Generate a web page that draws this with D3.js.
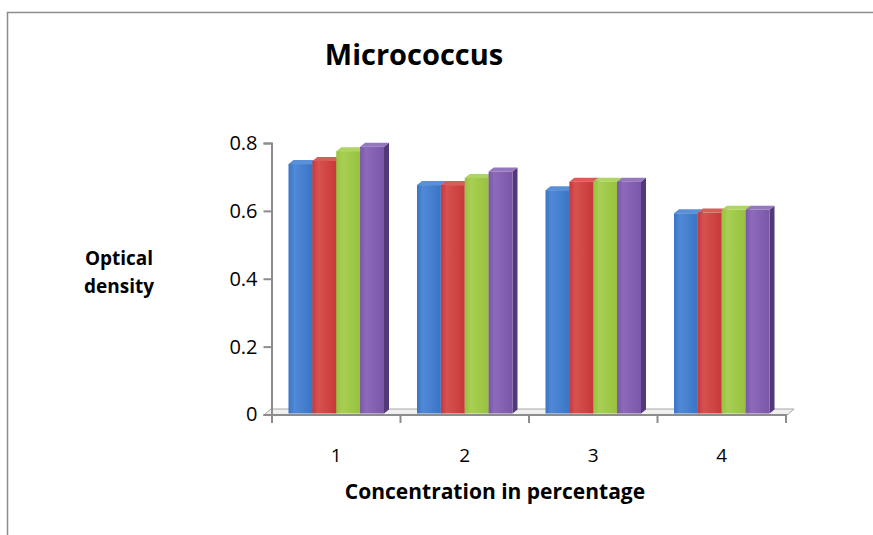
<!DOCTYPE html>
<html>
<head>
<meta charset="utf-8">
<script src="https://cdn.jsdelivr.net/npm/d3@7"></script>
<style>
  body { margin: 0; background: #fff; }
  text { font-family: "Open Sans", "Liberation Sans", sans-serif; }
</style>
</head>
<body>
<div id="chart"></div>
<script>
// data
const categories = ["1", "2", "3", "4"];
const series1 = [0.738, 0.676, 0.661, 0.593];
const series2 = [0.747, 0.676, 0.686, 0.595];
const series3 = [0.776, 0.697, 0.686, 0.603];
const series4 = [0.789, 0.716, 0.686, 0.603];
const yTicks = [0, 0.2, 0.4, 0.6, 0.8];

const allSeries = [series1, series2, series3, series4];
const seriesKeys = ["s1", "s2", "s3", "s4"];

// front, side, top colours per series
const palette = [
    {front: "#3a74c6", light: "#5089d6", side: "#28528e", top: "#5a90d8"},
    {front: "#c93838", light: "#d65151", side: "#8f2828", top: "#da5b58"},
    {front: "#97c23e", light: "#a8cf54", side: "#6a8b2a", top: "#aed461"},
    {front: "#7b56aa", light: "#8c6bb9", side: "#523977", top: "#9577c0"}
];

const width = 873, height = 535;
const depthX = 5, depthY = -4;

let svg = d3.select("#chart").append("svg")
    .attr("width", width)
    .attr("height", height);

// outer frame (cut off at right and bottom)
svg.append("path")
    .attr("d", "M7.5," + height + " V12.5 H" + width)
    .attr("fill", "none")
    .attr("stroke", "#8c8c8c")
    .attr("stroke-width", 1.5);

// scales
let xScale = d3.scaleBand()
    .domain(categories)
    .range([272, 786]);

let innerScale = d3.scaleBand()
    .domain(seriesKeys)
    .range([16.5, xScale.bandwidth() - 16.5]);

let yScale = d3.scaleLinear()
    .domain([0, 0.8])
    .range([414.5, 143]);

// gradients
let defs = svg.append("defs");
palette.forEach(function(c, i) {
    let g = defs.append("linearGradient")
        .attr("id", "grad" + i)
        .attr("x1", "0").attr("x2", "1").attr("y1", "0").attr("y2", "0");
    g.append("stop").attr("offset", "0").attr("stop-color", c.front);
    g.append("stop").attr("offset", "0.25").attr("stop-color", c.light);
    g.append("stop").attr("offset", "1").attr("stop-color", c.front);
});

// floor
let x0 = xScale.range()[0], x1 = xScale.range()[1], y0 = yScale(0) + 0.5;
svg.append("path")
    .attr("d", "M" + (x0 - 8) + "," + y0 + " L" + (x1 + 1) + "," + y0 +
        " L" + (x1 + 8) + "," + (y0 - 6) + " L" + (x0 - 1) + "," + (y0 - 6) + " Z")
    .attr("fill", "#f0f0f0")
    .attr("stroke", "#a6a6a6")
    .attr("stroke-width", 1);

// y axis
let yAxis = svg.append("g")
    .attr("transform", "translate(" + (x0 - 0.5) + ",0)")
    .call(d3.axisLeft(yScale).tickValues(yTicks).tickSize(8).tickPadding(6)
        .tickFormat(d3.format("")));
yAxis.select(".domain").attr("stroke", "#8c8c8c").attr("stroke-width", 2);
yAxis.selectAll(".tick line").attr("stroke", "#8c8c8c").attr("stroke-width", 2);
yAxis.selectAll(".tick text").attr("font-size", 20).attr("fill", "#000");

// x axis
let xAxis = svg.append("g")
    .attr("transform", "translate(0," + y0 + ")");
xAxis.append("line")
    .attr("x1", x0 - 8).attr("x2", x1 + 1)
    .attr("stroke", "#8c8c8c").attr("stroke-width", 2);
let xEdges = categories.map(function(c) { return xScale(c); }).concat([x1]);
xAxis.selectAll("line.tick").data(xEdges).enter().append("line")
    .attr("class", "tick")
    .attr("x1", function(d) { return d; })
    .attr("x2", function(d) { return d; })
    .attr("y1", 0).attr("y2", 8)
    .attr("stroke", "#8c8c8c").attr("stroke-width", 2);
xAxis.selectAll("text").data(categories).enter().append("text")
    .attr("x", function(d) { return xScale(d) + xScale.bandwidth() / 2; })
    .attr("y", 47)
    .attr("text-anchor", "middle")
    .attr("font-size", 19)
    .text(function(d) { return d; });

// bars
let groups = svg.selectAll("g.cat").data(categories).enter().append("g")
    .attr("class", "cat")
    .attr("transform", function(d) { return "translate(" + xScale(d) + ",0)"; });

groups.each(function(cat, ci) {
    let g = d3.select(this);
    allSeries.forEach(function(values, si) {
        let v = values[ci];
        let bx = innerScale(seriesKeys[si]);
        let bw = innerScale.bandwidth();
        let top = yScale(v);
        let bottom = yScale(0) - 1;
        let c = palette[si];
        // side face
        g.append("path")
            .attr("d", "M" + (bx + bw) + "," + top + " L" + (bx + bw + depthX) + "," + (top + depthY) +
                " L" + (bx + bw + depthX) + "," + (bottom + depthY) + " L" + (bx + bw) + "," + bottom + " Z")
            .attr("fill", c.side);
        // top face
        g.append("path")
            .attr("d", "M" + bx + "," + top + " L" + (bx + depthX) + "," + (top + depthY) +
                " L" + (bx + bw + depthX) + "," + (top + depthY) + " L" + (bx + bw) + "," + top + " Z")
            .attr("fill", c.top);
        // front face
        g.append("rect")
            .attr("x", bx)
            .attr("y", top)
            .attr("width", bw)
            .attr("height", bottom - top)
            .attr("fill", "url(#grad" + si + ")");
    });
});

// titles
svg.append("text")
    .attr("x", 414).attr("y", 65)
    .attr("text-anchor", "middle")
    .attr("font-size", 29).attr("font-weight", "bold")
    .text("Micrococcus");

svg.append("text")
    .attr("x", 119).attr("y", 265)
    .attr("text-anchor", "middle")
    .attr("font-size", 19).attr("font-weight", "bold")
    .text("Optical");
svg.append("text")
    .attr("x", 119).attr("y", 293)
    .attr("text-anchor", "middle")
    .attr("font-size", 19).attr("font-weight", "bold")
    .text("density");

svg.append("text")
    .attr("x", 495).attr("y", 499)
    .attr("text-anchor", "middle")
    .attr("font-size", 21).attr("font-weight", "bold")
    .text("Concentration in percentage");
</script>
</body>
</html>
